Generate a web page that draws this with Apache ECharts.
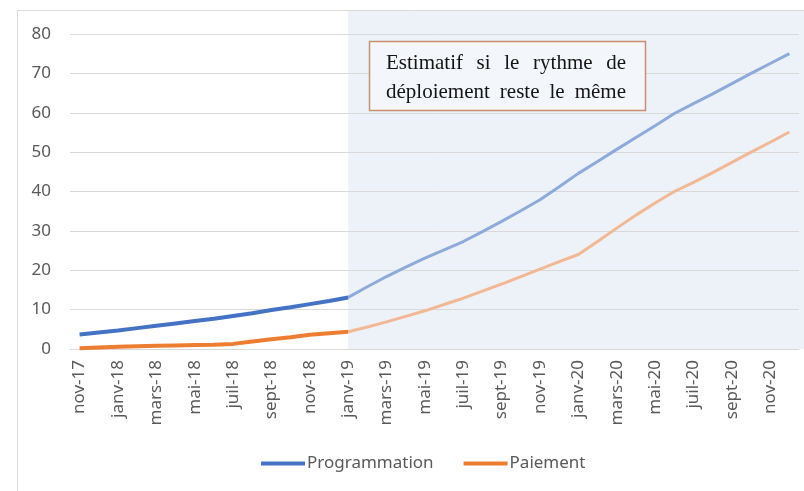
<!DOCTYPE html>
<html>
<head>
<meta charset="utf-8">
<script src="https://cdn.jsdelivr.net/npm/echarts@6/dist/echarts.min.js"></script>
<style>
  html, body { margin: 0; padding: 0; background: #fff; }
  #chart { width: 804px; height: 491px; }
</style>
</head>
<body>
<div id="chart"></div>
<script>
// monthly points, nov-17 .. déc-20
const months = [
  'nov-17', 'déc-17', 'janv-18', 'févr-18', 'mars-18', 'avr-18', 'mai-18', 'juin-18', 'juil-18', 'août-18',
  'sept-18', 'oct-18', 'nov-18', 'déc-18', 'janv-19', 'févr-19', 'mars-19', 'avr-19', 'mai-19', 'juin-19',
  'juil-19', 'août-19', 'sept-19', 'oct-19', 'nov-19', 'déc-19', 'janv-20', 'févr-20', 'mars-20', 'avr-20',
  'mai-20', 'juin-20', 'juil-20', 'août-20', 'sept-20', 'oct-20', 'nov-20', 'déc-20'
];
const programmation = [
  3.7, 4.2, 4.7, 5.3, 5.9, 6.5, 7.1, 7.7, 8.4, 9.1,
  9.9, 10.6, 11.4, 12.2, 13.1, 15.8, 18.4, 20.8, 23.1, 25.2,
  27.3, 29.8, 32.4, 35.1, 37.9, 41.2, 44.6, 47.6, 50.7, 53.7,
  56.7, 59.8, 62.3, 64.8, 67.4, 70.0, 72.5, 75.0
];
const paiement = [
  0.2, 0.4, 0.6, 0.7, 0.8, 0.9, 1.0, 1.1, 1.3, 1.9,
  2.5, 3.0, 3.6, 4.0, 4.4, 5.6, 6.9, 8.3, 9.7, 11.3,
  12.9, 14.7, 16.5, 18.4, 20.3, 22.2, 24.0, 27.3, 30.7, 34.0,
  37.1, 40.0, 42.3, 44.8, 47.4, 50.0, 52.5, 55.1
];
const splitIndex = 14; // janv-19: start of the estimate
const noteLines = ['Estimatif si le rythme de', 'déploiement reste le même'];

const axisFont = '"Noto Sans", sans-serif';
const noteFont = '21px "Liberation Serif"';

const chart = echarts.init(document.getElementById('chart'));

const actual = arr => arr.map((v, i) => (i <= splitIndex ? v : null));
const estimate = arr => arr.map((v, i) => (i >= splitIndex ? v : null));

const option = {
  animation: false,
  backgroundColor: '#fff',
  grid: { left: 70, right: 5, top: 34, bottom: 142 },
  legend: {
    data: ['Programmation', 'Paiement'],
    bottom: 14,
    left: 256,
    itemWidth: 44,
    itemHeight: 4,
    itemGap: 30,
    icon: 'rect',
    textStyle: { fontFamily: axisFont, fontSize: 17, color: '#595959', padding: [0, 0, 0, -3] }
  },
  xAxis: {
    type: 'category',
    data: months,
    boundaryGap: true,
    axisLine: { lineStyle: { color: '#d9d9d9' } },
    axisTick: { interval: 1, length: 5, lineStyle: { color: '#d9d9d9' } },
    axisLabel: { interval: 1, rotate: 90, margin: 11, fontFamily: axisFont, fontSize: 17, color: '#595959' }
  },
  yAxis: {
    type: 'value',
    min: 0,
    max: 80,
    interval: 10,
    axisLine: { show: false },
    axisTick: { show: false },
    axisLabel: { margin: 19, fontFamily: axisFont, fontSize: 17, color: '#595959' },
    splitLine: { lineStyle: { color: '#d9d9d9' } }
  },
  series: [
    { name: 'Programmation', type: 'line', data: actual(programmation), symbol: 'none',
      lineStyle: { width: 4, color: '#4472c4' }, itemStyle: { color: '#4472c4' }, z: 4 },
    { name: 'Paiement', type: 'line', data: actual(paiement), symbol: 'none',
      lineStyle: { width: 4, color: '#ed7d31' }, itemStyle: { color: '#ed7d31' }, z: 4 },
    { name: 'Programmation', type: 'line', data: estimate(programmation), symbol: 'none',
      lineStyle: { width: 3, color: '#8eaadb' }, z: 3 },
    { name: 'Paiement', type: 'line', data: estimate(paiement), symbol: 'none',
      lineStyle: { width: 3, color: '#f2b894' }, z: 3 }
  ]
};

chart.setOption(option);

// shaded "estimate" zone and note box, placed from the axes
const xStart = chart.convertToPixel({ xAxisIndex: 0 }, months[splitIndex]);
const yBase = chart.convertToPixel({ yAxisIndex: 0 }, 0);

const ctx = document.createElement('canvas').getContext('2d');
ctx.font = noteFont;
const noteLeft = 386, noteRight = 626;
function justify(line, y) {
  const words = line.split(' ');
  const widths = words.map(w => ctx.measureText(w).width);
  const total = widths.reduce((s, w) => s + w, 0);
  const gap = (noteRight - noteLeft - total) / (words.length - 1);
  let x = noteLeft;
  return words.map((w, i) => {
    const el = { type: 'text', x: x, y: y, z: 101,
      style: { text: w, font: noteFont, fill: '#141414', verticalAlign: 'middle' } };
    x += widths[i] + gap;
    return el;
  });
}

chart.setOption({
  graphic: [
    { type: 'rect', z: -10, silent: true,
      shape: { x: xStart, y: 11, width: 804 - xStart, height: yBase - 11 },
      style: { fill: '#edf2f9' } },
    { type: 'rect', z: -5, silent: true,
      shape: { x: 17.5, y: 10.5, width: 800, height: 500 },
      style: { fill: 'none', stroke: '#d9d9d9', lineWidth: 1 } },
    { type: 'rect', z: 100, silent: true,
      shape: { x: 369.5, y: 41.5, width: 276, height: 69 },
      style: { fill: '#f3f6fa', stroke: '#c98f74', lineWidth: 1.5 } },
    ...justify(noteLines[0], 63),
    ...justify(noteLines[1], 92)
  ]
});

window.addEventListener('resize', () => chart.resize());
</script>
</body>
</html>
